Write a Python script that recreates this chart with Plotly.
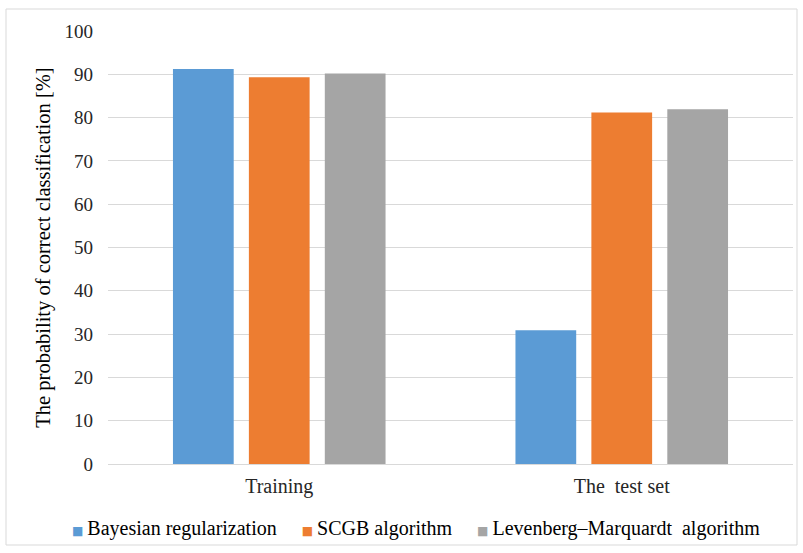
import plotly.graph_objects as go

categories = ["Training", "The\u00a0 test set"]
series_names = ["Bayesian regularization", "SCGB algorithm", "Levenberg\u2013Marquardt\u00a0 algorithm"]
bayesian = [91.2, 30.9]
scgb = [89.3, 81.2]
levenberg = [90.2, 81.9]
colors = ["#5b9bd5", "#ed7d31", "#a5a5a5"]

W, H = 803, 553
ml, mr, mt, mb = 108, 10, 31, 89
pw, ph = W - ml - mr, H - mt - mb

def px(x):
    return (x - ml) / pw

def py(y):
    return (H - mb - y) / ph

fig = go.Figure()
for name, vals, c in zip(series_names, [bayesian, scgb, levenberg], colors):
    fig.add_trace(go.Bar(x=categories, y=vals, name=name, marker_color=c,
                         marker_line_width=0, showlegend=False))

# One-line legend: coloured square + series name for each trace
legend_text = "\u00a0\u00a0\u00a0\u00a0\u00a0".join(
    f"<span style='color:{c};font-size:12px;font-family:DejaVu Sans'>\u25a0</span>\u2009{n}"
    for n, c in zip(series_names, colors)
)

serif = "Liberation Serif"
fig.update_layout(
    width=W, height=H,
    margin=dict(l=ml, r=mr, t=mt, b=mb, autoexpand=False),
    paper_bgcolor="white", plot_bgcolor="white",
    barmode="group", bargap=0.335, bargroupgap=0.2,
    font=dict(family=serif, size=20, color="#262626"),
    showlegend=False,
    annotations=[dict(text=legend_text, xref="paper", yref="paper",
                      x=px(416), y=py(528), xanchor="center", yanchor="middle",
                      showarrow=False,
                      font=dict(family=serif, size=20, color="#000000"))],
    xaxis=dict(showgrid=False, showline=True, linecolor="#d9d9d9", linewidth=1,
               ticks="", ticklabelstandoff=4,
               tickfont=dict(family=serif, size=20, color="#262626")),
    yaxis=dict(range=[0, 100], dtick=10, showgrid=True, gridcolor="#d9d9d9", gridwidth=1,
               zeroline=False, showline=False, ticks="", ticklabelstandoff=14,
               tickfont=dict(family=serif, size=19, color="#262626"),
               title=dict(text="The probability of correct classification [%]",
                          font=dict(family=serif, size=20.5, color="#000000"), standoff=8)),
    shapes=[dict(type="rect", xref="paper", yref="paper",
                 x0=px(6), x1=px(797), y0=py(545), y1=py(9),
                 line=dict(color="#d9d9d9", width=1), layer="below")],
)

fig.write_html("out.html")
